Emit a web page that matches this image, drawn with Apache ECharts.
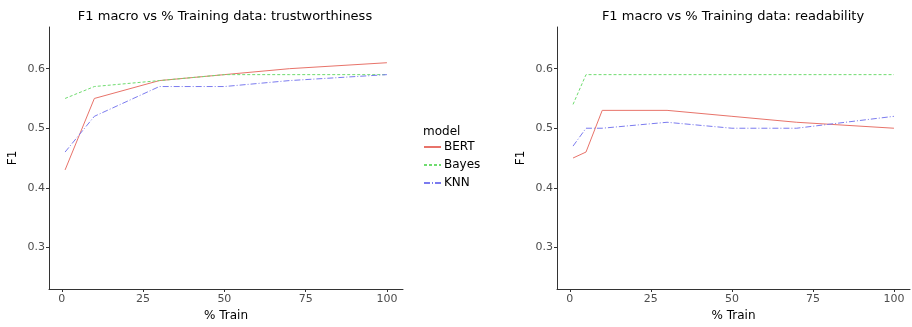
<!DOCTYPE html>
<html>
<head>
<meta charset="utf-8">
<script src="https://cdn.jsdelivr.net/npm/echarts@6/dist/echarts.min.js"></script>
<style>html,body{margin:0;padding:0;background:#fff}#c{width:912px;height:327px}</style>
</head>
<body>
<div id="c"></div>
<script>
// Data
const xTrust = [1, 10, 30, 50, 70, 100];
const bertTrust = [0.43, 0.55, 0.58, 0.59, 0.60, 0.61];
const bayesTrust = [0.55, 0.57, 0.58, 0.59, 0.59, 0.59];
const knnTrust = [0.46, 0.52, 0.57, 0.57, 0.58, 0.59];

const xRead = [1, 5, 10, 30, 50, 70, 100];
const bertRead = [0.45, 0.46, 0.53, 0.53, 0.52, 0.51, 0.50];
const bayesRead = [0.54, 0.59, 0.59, 0.59, 0.59, 0.59, 0.59];
const knnRead = [0.47, 0.50, 0.50, 0.51, 0.50, 0.50, 0.52];

const xTicks = [0, 25, 50, 75, 100];
const yTicks = [0.3, 0.4, 0.5, 0.6];
const titles = ['F1 macro vs % Training data: trustworthiness', 'F1 macro vs % Training data: readability'];

const colors = {BERT: '#E8736A', Bayes: '#6FDC6F', KNN: '#7B7BEF'};
const dashes = {BERT: 'solid', Bayes: [3, 2], KNN: [6, 2, 1, 2]};

const font = 'DejaVu Sans';
const pair = (xs, ys) => xs.map((x, i) => [x, ys[i]]);

function xAxis(gi) {
  return {
    type: 'value', gridIndex: gi, min: -3.95, max: 104.95,
    name: '% Train', nameLocation: 'middle', nameGap: 21,
    nameTextStyle: {fontFamily: font, fontSize: 12, color: '#000'},
    axisLine: {onZero: false, lineStyle: {color: '#333', width: 1}},
    axisTick: {show: true, length: 3, lineStyle: {color: '#333'}, customValues: xTicks},
    axisLabel: {fontFamily: font, fontSize: 11, color: '#4D4D4D', margin: 5, customValues: xTicks},
    splitLine: {show: false}
  };
}
function yAxis(gi) {
  return {
    type: 'value', gridIndex: gi, min: 0.23, max: 0.67,
    name: 'F1', nameLocation: 'middle', nameGap: 30, nameRotate: 90,
    nameTextStyle: {fontFamily: font, fontSize: 12, color: '#000'},
    axisLine: {show: true, onZero: false, lineStyle: {color: '#333', width: 1}},
    axisTick: {show: true, length: 3, lineStyle: {color: '#333'}, customValues: yTicks},
    axisLabel: {fontFamily: font, fontSize: 11, color: '#4D4D4D', margin: 4, customValues: yTicks,
      formatter: v => v.toFixed(1)},
    splitLine: {show: false}
  };
}
function line(name, gi, data) {
  return {
    name, type: 'line', xAxisIndex: gi, yAxisIndex: gi, data,
    symbol: 'none', showSymbol: false, silent: true, animation: false,
    lineStyle: {color: colors[name], width: 1, type: dashes[name]},
    itemStyle: {color: colors[name]}
  };
}

const chart = echarts.init(document.getElementById('c'), null, {renderer: 'canvas'});
chart.setOption({
  backgroundColor: '#fff',
  animation: false,
  title: [
    {text: titles[0], left: 220, top: 5, textAlign: 'center',
      textStyle: {fontFamily: font, fontSize: 13, fontWeight: 'normal', color: '#000'}},
    {text: titles[1], left: 728, top: 5, textAlign: 'center',
      textStyle: {fontFamily: font, fontSize: 13, fontWeight: 'normal', color: '#000'}}
  ],
  grid: [
    {left: 49, top: 27, width: 354, height: 265, containLabel: false},
    {left: 557, top: 27, width: 353, height: 265, containLabel: false}
  ],
  xAxis: [xAxis(0), xAxis(1)],
  yAxis: [yAxis(0), yAxis(1)],
  legend: {
    orient: 'vertical', left: 423, top: 141, padding: 0, itemWidth: 17, itemHeight: 12, itemGap: 6,
    data: ['BERT', 'Bayes', 'KNN'],
    itemStyle: {opacity: 0},
    textStyle: {fontFamily: font, fontSize: 12, color: '#000', padding: [0, 0, 0, -2]},
    selectedMode: false
  },
  graphic: [
    {type: 'text', left: 423, top: 126, style: {text: 'model', fontFamily: font, fontSize: 12, fill: '#000'}}
  ],
  series: [
    line('BERT', 0, pair(xTrust, bertTrust)),
    line('Bayes', 0, pair(xTrust, bayesTrust)),
    line('KNN', 0, pair(xTrust, knnTrust)),
    line('BERT', 1, pair(xRead, bertRead)),
    line('Bayes', 1, pair(xRead, bayesRead)),
    line('KNN', 1, pair(xRead, knnRead))
  ]
});
</script>
</body>
</html>
